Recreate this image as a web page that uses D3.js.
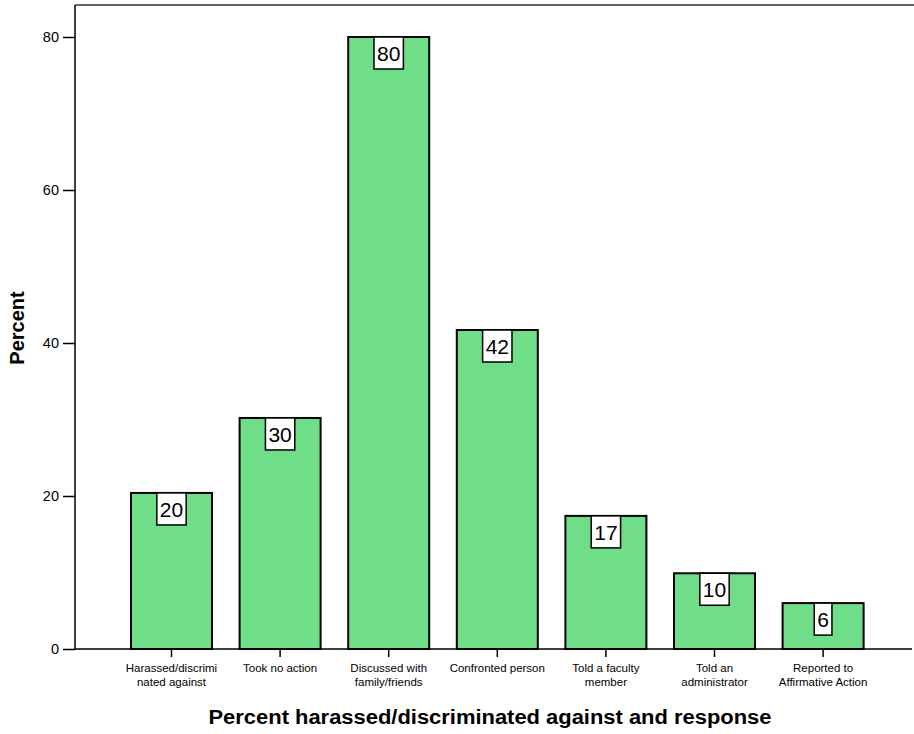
<!DOCTYPE html>
<html>
<head>
<meta charset="utf-8">
<script src="https://cdn.jsdelivr.net/npm/d3@7"></script>
<style>
  html, body { margin: 0; padding: 0; background: #fff; }
  svg { display: block; font-family: Arial, "Liberation Sans", sans-serif; }
</style>
</head>
<body>
<svg id="chart" width="914" height="734"></svg>
<script>
// Responses to harassment/discrimination (percent of respondents)
const categories = [
  ["Harassed/discrimi", "nated against"],
  ["Took no action"],
  ["Discussed with", "family/friends"],
  ["Confronted person"],
  ["Told a faculty", "member"],
  ["Told an", "administrator"],
  ["Reported to", "Affirmative Action"]
];
const percents = [20.4, 30.2, 80.0, 41.7, 17.4, 9.9, 6.0];
const yTicks = [0, 20, 40, 60, 80];
const xTitle = "Percent harassed/discriminated against and response";
const yTitle = "Percent";

const svg = d3.select("#chart");
const plot = { left: 75, top: 5, right: 920, bottom: 649 };

const x = d3.scaleBand()
  .domain(d3.range(categories.length))
  .range([117.2, 877.4])
  .paddingInner(0.254)
  .paddingOuter(0.127);

const y = d3.scaleLinear()
  .domain([0, 80])
  .range([plot.bottom, 37]);

// frame: top border
svg.append("line")
  .attr("x1", plot.left).attr("x2", plot.right)
  .attr("y1", plot.top).attr("y2", plot.top)
  .attr("stroke", "#333").attr("stroke-width", 1.5);

// bars
svg.append("g").selectAll("rect")
  .data(percents)
  .join("rect")
  .attr("x", (d, i) => x(i))
  .attr("y", d => y(d))
  .attr("width", x.bandwidth())
  .attr("height", d => y(0) - y(d))
  .attr("fill", "#70dd88")
  .attr("stroke", "#000")
  .attr("stroke-width", 2);

// y axis
const yAxis = svg.append("g")
  .attr("transform", `translate(${plot.left},0)`)
  .call(d3.axisLeft(y).tickValues(yTicks).tickSize(12).tickPadding(4).tickSizeOuter(0));
yAxis.select(".domain").attr("d", `M0,${plot.top}V${plot.bottom}`).attr("stroke", "#000").attr("stroke-width", 1.5);
yAxis.selectAll(".tick line").attr("stroke", "#000").attr("stroke-width", 1.5);
yAxis.selectAll(".tick text").attr("font-size", 14.5).attr("fill", "#000")
  .attr("font-family", "Arial, 'Liberation Sans', sans-serif");

// x axis
const xAxis = svg.append("g")
  .attr("transform", `translate(0,${plot.bottom})`)
  .call(d3.axisBottom(x).tickSize(8).tickSizeOuter(0).tickFormat(""));
xAxis.select(".domain").attr("d", `M${plot.left},0H912`).attr("stroke", "#000").attr("stroke-width", 1.5);
xAxis.selectAll(".tick line").attr("stroke", "#000").attr("stroke-width", 1.5);

// category labels (two lines where wrapped)
const catG = svg.append("g")
  .attr("font-size", 11.5)
  .attr("text-anchor", "middle")
  .attr("fill", "#000");
categories.forEach((lines, i) => {
  const t = catG.append("text")
    .attr("x", x(i) + x.bandwidth() / 2)
    .attr("y", 672);
  lines.forEach((ln, j) => {
    t.append("tspan")
      .attr("x", x(i) + x.bandwidth() / 2)
      .attr("dy", j === 0 ? 0 : 14)
      .text(ln);
  });
});

// value labels in white boxes at the top of each bar
const lab = svg.append("g").selectAll("g")
  .data(percents)
  .join("g")
  .attr("transform", (d, i) => `translate(${x(i) + x.bandwidth() / 2},${y(d)})`);
lab.append("rect").attr("class", "box");
lab.append("text")
  .attr("text-anchor", "middle")
  .attr("y", 24)
  .attr("font-size", 21)
  .attr("fill", "#000")
  .text(d => Math.round(d));
lab.each(function () {
  const g = d3.select(this);
  const w = g.select("text").node().getComputedTextLength();
  g.select("rect.box")
    .attr("x", -w / 2 - 3)
    .attr("y", 0)
    .attr("width", w + 6)
    .attr("height", 32)
    .attr("fill", "#fff")
    .attr("stroke", "#000")
    .attr("stroke-width", 1.5);
});

// axis titles
svg.append("text")
  .attr("x", 490).attr("y", 724)
  .attr("text-anchor", "middle")
  .attr("font-size", 20).attr("font-weight", "bold")
  .attr("textLength", 563).attr("lengthAdjust", "spacingAndGlyphs")
  .text(xTitle);
svg.append("text")
  .attr("transform", "translate(24,328) rotate(-90)")
  .attr("text-anchor", "middle")
  .attr("font-size", 20).attr("font-weight", "bold")
  .text(yTitle);
</script>
</body>
</html>
